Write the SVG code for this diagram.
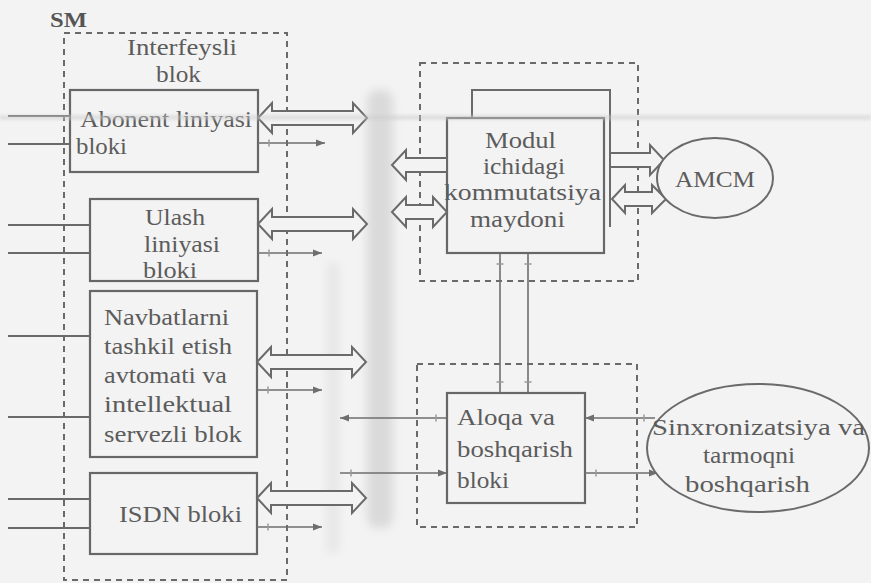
<svg xmlns="http://www.w3.org/2000/svg" width="871" height="583" viewBox="0 0 871 583">
  <defs>
    <style>
      .box { fill: none; stroke: #676767; stroke-width: 2.2; }
      .dash { fill: none; stroke: #6a6a6a; stroke-width: 2; stroke-dasharray: 6 5; }
      .ln { fill: none; stroke: #6a6a6a; stroke-width: 2; }
      .sig { fill: none; stroke: #6e6e6e; stroke-width: 1.6; marker-end: url(#ah); marker-start: url(#tk); }
      .sig2 { fill: none; stroke: #6e6e6e; stroke-width: 1.6; marker-end: url(#tk2); marker-start: url(#tk); }
      .hol { fill: #f3f3f3; stroke: #6a6a6a; stroke-width: 2; stroke-linejoin: miter; }
      .oval { fill: #f3f3f3; stroke: #6a6a6a; stroke-width: 2; }
      text { font-family: "Liberation Serif", "Times New Roman", serif; font-size: 23px; fill: #5c5c5c; }
      .bold { font-weight: bold; font-size: 21px; fill: #555; }
    </style>
    <marker id="ah" markerUnits="userSpaceOnUse" markerWidth="12" markerHeight="10" refX="9" refY="4" orient="auto" overflow="visible">
      <path d="M0,0.5 L9,4 L0,7.5 z" fill="#6e6e6e"/>
    </marker>
    <marker id="tk" markerUnits="userSpaceOnUse" markerWidth="4" markerHeight="10" refX="-11" refY="4" orient="auto" overflow="visible">
      <path d="M0,0.5 V7.5" stroke="#9a9a9a" stroke-width="1.5"/>
    </marker>
    <marker id="tk2" markerUnits="userSpaceOnUse" markerWidth="4" markerHeight="10" refX="11" refY="4" orient="auto" overflow="visible">
      <path d="M0,0.5 V7.5" stroke="#9a9a9a" stroke-width="1.5"/>
    </marker>
    <filter id="soft" x="-100%" y="-10%" width="300%" height="120%">
      <feGaussianBlur stdDeviation="5"/>
    </filter>
    <filter id="soft2" x="-5%" y="-200%" width="110%" height="500%">
      <feGaussianBlur stdDeviation="1.5"/>
    </filter>
  </defs>

  <!-- page -->
  <rect x="0" y="0" width="871" height="583" fill="#f3f3f3"/>

  <!-- shared bus bands -->
  <g id="bus">
    <rect x="367" y="90" width="26" height="438" rx="10" fill="#dadada" filter="url(#soft)"/>
    <rect x="327" y="262" width="12" height="292" rx="6" fill="#e6e6e6" filter="url(#soft)"/>
  </g>

  <!-- enclosing dashed areas -->
  <g id="SM">
    <text class="bold" x="50" y="27" textLength="37" lengthAdjust="spacingAndGlyphs">SM</text>
  </g>
  <g id="interface-area">
    <rect class="dash" x="64" y="33" width="223" height="547"/>
    <text x="127" y="55" textLength="110" lengthAdjust="spacingAndGlyphs">Interfeysli</text>
    <text x="156" y="82" textLength="45" lengthAdjust="spacingAndGlyphs">blok</text>
  </g>
  <g id="switch-area">
    <rect class="dash" x="420" y="63" width="218" height="218"/>
  </g>
  <g id="control-area">
    <rect class="dash" x="417" y="364" width="220" height="163"/>
  </g>

  <!-- interface blocks -->
  <g id="abonent">
    <rect class="box" x="70" y="90" width="188" height="82"/>
    <text x="80" y="127" textLength="172" lengthAdjust="spacingAndGlyphs">Abonent liniyasi</text>
    <text x="76" y="154" textLength="51" lengthAdjust="spacingAndGlyphs">bloki</text>
  </g>
  <g id="ulash">
    <rect class="box" x="90" y="199" width="168" height="82"/>
    <text x="145" y="225" textLength="60" lengthAdjust="spacingAndGlyphs">Ulash</text>
    <text x="144" y="252" textLength="76" lengthAdjust="spacingAndGlyphs">liniyasi</text>
    <text x="143" y="278" textLength="54" lengthAdjust="spacingAndGlyphs">bloki</text>
  </g>
  <g id="navbat">
    <rect class="box" x="90" y="291" width="167" height="166"/>
    <text x="104" y="325" textLength="125" lengthAdjust="spacingAndGlyphs">Navbatlarni</text>
    <text x="104" y="354" textLength="128" lengthAdjust="spacingAndGlyphs">tashkil etish</text>
    <text x="104" y="383" textLength="123" lengthAdjust="spacingAndGlyphs">avtomati va</text>
    <text x="104" y="412" textLength="128" lengthAdjust="spacingAndGlyphs">intellektual</text>
    <text x="104" y="442" textLength="138" lengthAdjust="spacingAndGlyphs">servezli blok</text>
  </g>
  <g id="isdn">
    <rect class="box" x="90" y="473" width="167" height="81"/>
    <text x="119" y="522" textLength="123" lengthAdjust="spacingAndGlyphs">ISDN bloki</text>
  </g>

  <!-- switching field -->
  <g id="switch">
    <rect class="box" x="447" y="118" width="157" height="135"/>
    <text x="485" y="148" textLength="71" lengthAdjust="spacingAndGlyphs">Modul</text>
    <text x="483" y="174" textLength="82" lengthAdjust="spacingAndGlyphs">ichidagi</text>
    <text x="444" y="200" textLength="157" lengthAdjust="spacingAndGlyphs">kommutatsiya</text>
    <text x="470" y="227" textLength="95" lengthAdjust="spacingAndGlyphs">maydoni</text>
  </g>

  <!-- control block -->
  <g id="aloqa">
    <rect class="box" x="447" y="393" width="138" height="110"/>
    <text x="457" y="425" textLength="98" lengthAdjust="spacingAndGlyphs">Aloqa va</text>
    <text x="457" y="457" textLength="116" lengthAdjust="spacingAndGlyphs">boshqarish</text>
    <text x="457" y="488" textLength="52" lengthAdjust="spacingAndGlyphs">bloki</text>
  </g>

  <!-- connectors -->
  <g id="connectors">
    <!-- external lines into interface blocks -->
    <path class="ln" d="M8,116 H70 M8,144 H70 M8,225 H90 M8,253 H90 M8,336 H90 M8,417 H90 M8,499 H90 M8,528 H90"/>

    <!-- wide data paths from blocks to bus -->
    <polygon class="hol" points="258,118 272,103 272,111 353,111 353,103 367,118 353,133 353,125 272,125 272,133"/>
    <polygon class="hol" points="258,224 272,209 272,217 353,217 353,209 367,224 353,239 353,231 272,231 272,239"/>
    <polygon class="hol" points="257,362 271,347 271,355 352,355 352,347 366,362 352,377 352,369 271,369 271,377"/>
    <polygon class="hol" points="257,498 271,483 271,491 352,491 352,483 366,498 352,513 352,505 271,505 271,513"/>

    <!-- control lines from blocks -->
    <path class="sig" d="M258,143 H325"/>
    <path class="sig" d="M258,253 H322"/>
    <path class="sig" d="M257,390 H322"/>
    <path class="sig" d="M257,527 H322"/>

    <!-- wide paths at the switching field -->
    <polygon class="hol" points="392,165 406,150 406,158 447,158 447,172 406,172 406,180"/>
    <polygon class="hol" points="392,212 406,197 406,205 433,205 433,197 447,212 433,227 433,219 406,219 406,227"/>
    <polygon class="hol" points="610,153 650,153 650,145 664,160 650,175 650,167 610,167"/>
    <polygon class="hol" points="612,199 625,185 625,192 652,192 652,185 666,199 652,213 652,206 625,206 625,213"/>

    <!-- loop over the switching field -->
    <path class="ln" d="M472,118 V90 H610 V227"/>

    <!-- switching field to control block -->
    <path class="sig2" d="M500,253 V393"/>
    <path class="sig2" d="M528,253 V393"/>

    <!-- control block links -->
    <path class="sig" d="M447,418 H340"/>
    <path class="sig" d="M340,473 H447"/>
    <path class="sig" d="M655,418 H585"/>
    <path class="sig" d="M585,473 H658"/>
  </g>

  <!-- external nodes -->
  <g id="amcm">
    <ellipse class="oval" cx="715" cy="178" rx="58" ry="40"/>
    <text x="675" y="187" textLength="80" lengthAdjust="spacingAndGlyphs">AMCM</text>
  </g>
  <g id="sync">
    <ellipse class="oval" cx="758" cy="448" rx="111" ry="64"/>
    <text x="652" y="435" textLength="213" lengthAdjust="spacingAndGlyphs">Sinxronizatsiya va</text>
    <text x="703" y="463" textLength="92" lengthAdjust="spacingAndGlyphs">tarmoqni</text>
    <text x="685" y="492" textLength="125" lengthAdjust="spacingAndGlyphs">boshqarish</text>
  </g>

  <!-- fold line across the sheet -->
  <rect x="0" y="115" width="871" height="5" fill="#cccccc" opacity="0.5" filter="url(#soft2)"/>
</svg>
